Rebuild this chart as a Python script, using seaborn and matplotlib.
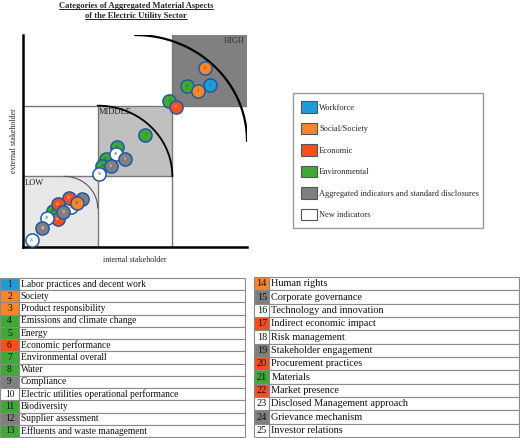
import numpy as np
import pandas as pd
import seaborn as sns
import matplotlib.pyplot as plt
from matplotlib.patches import Patch, Rectangle
from matplotlib.lines import Line2D

sns.set_style('white')
plt.rcParams['font.family'] = ['Liberation Serif', 'DejaVu Serif']

# aspects, their group and where they sit on the map (0..3 on both axes)
aspect_ids = list(range(1, 26))
aspect_names = ['Labor practices and decent work', 'Society', 'Product responsibility',
                'Emissions and climate change', 'Energy', 'Economic performance',
                'Environmental overall', 'Water', 'Compliance',
                'Electric utilities operational performance', 'Biodiversity',
                'Supplier assessment', 'Effluents and waste management', 'Human rights',
                'Corporate governance', 'Technology and innovation', 'Indirect economic impact',
                'Risk management', 'Stakeholder engagement', 'Procurement practices',
                'Materials', 'Market presence', 'Disclosed Management approach',
                'Grievance mechanism', 'Investor relations']
aspect_groups = ['Workforce', 'Social/Society', 'Social/Society', 'Environmental', 'Environmental',
                 'Economic', 'Environmental', 'Environmental', 'Aggregated', 'New',
                 'Environmental', 'Aggregated', 'Environmental', 'Social/Society', 'Aggregated',
                 'New', 'Economic', 'New', 'Aggregated', 'Economic',
                 'Environmental', 'Economic', 'New', 'Aggregated', 'New']
internal = [2.50, 2.44, 2.34, 2.19, 1.96, 2.05, 1.64, 1.26, 1.36, 1.24, 1.11, 1.18, 1.06,
            0.72, 0.79, 1.02, 0.61, 0.64, 0.54, 0.47, 0.40, 0.47, 0.32, 0.26, 0.12]
external = [2.29, 2.54, 2.21, 2.28, 2.07, 1.98, 1.58, 1.41, 1.24, 1.31, 1.25, 1.14, 1.15,
            0.62, 0.68, 1.03, 0.69, 0.57, 0.50, 0.61, 0.51, 0.39, 0.41, 0.27, 0.10]
draw_order = [2, 1, 4, 3, 5, 6, 7, 8, 11, 10, 9, 13, 12, 16,
              18, 17, 15, 14, 21, 20, 22, 23, 19, 24, 25]

group_labels = {'Workforce': 'Workforce', 'Social/Society': 'Social/Society',
                'Economic': 'Economic', 'Environmental': 'Environmental',
                'Aggregated': 'Aggregated indicators and standard disclosures',
                'New': 'New indicators'}
group_colors = {'Workforce': '#1f9bd7', 'Social/Society': '#f7852a', 'Economic': '#f4501c',
                'Environmental': '#3fa935', 'Aggregated': '#7f7f7f', 'New': '#ffffff'}

zone_names = ['LOW', 'MIDDLE', 'HIGH']
zone_start = [0, 1, 2]
zone_fill = ['#e8e8e8', '#c0c0c0', '#808080']
arc_center = [0.55, 1.0, 1.5]
arc_radius = [0.45, 1.0, 1.5]

df = pd.DataFrame({'id': aspect_ids, 'name': aspect_names, 'group': aspect_groups,
                   'internal': internal, 'external': external})
df = df.set_index('id').loc[draw_order].reset_index()

fig = plt.figure(figsize=(5.2, 4.38), dpi=100)
ax = fig.add_axes([23 / 520, 191 / 438, 224 / 520, 212 / 438])

for name, s, fill in zip(zone_names, zone_start, zone_fill):
    ax.add_patch(Rectangle((s, s), 1, 1, facecolor=fill, edgecolor='none', zorder=0))

# grid of the three levels
ax.plot([0, 2], [1, 1], color='#7a7a7a', lw=1, zorder=1)
ax.plot([0, 3], [2, 2], color='#7a7a7a', lw=1, zorder=1)
ax.plot([1, 1], [0, 2], color='#7a7a7a', lw=1, zorder=1)
ax.plot([2, 2], [0, 3], color='#7a7a7a', lw=1, zorder=1)

theta = np.linspace(0, np.pi / 2, 100)
for c, r, lw, col in zip(arc_center, arc_radius, [0.8, 1.3, 1.6], ['#555555', 'black', 'black']):
    ax.plot(c + r * np.cos(theta), c + r * np.sin(theta), color=col, lw=lw, zorder=2)

ax.text(0.02, 0.91, 'LOW', fontsize=6, ha='left', va='center', color='#222222')
ax.text(1.02, 1.915, 'MIDDLE', fontsize=6, ha='left', va='center', color='#222222')
ax.text(2.97, 2.92, 'HIGH', fontsize=6, ha='right', va='center', color='#333333')

for k, row in enumerate(df.itertuples()):
    sns.scatterplot(x=[row.internal], y=[row.external], color=group_colors[row.group],
                    s=90, edgecolor='#1f5aa6', linewidth=1.1, legend=False, ax=ax, zorder=10 + 2 * k)
    txt_col = 'white' if row.group in ('Economic', 'Aggregated') else '#333333'
    ax.text(row.internal, row.external, str(row.id), fontsize=2.8, ha='center', va='center',
            color=txt_col, zorder=11 + 2 * k)

ax.set_xlim(0, 3)
ax.set_ylim(0, 3)
ax.set_xticks([])
ax.set_yticks([])
sns.despine(ax=ax)
for side in ['left', 'bottom']:
    ax.spines[side].set_color('black')
    ax.spines[side].set_linewidth(1.8)
ax.set_xlabel('internal stakeholder', fontsize=5.8)
ax.set_ylabel('external stakeholder', fontsize=5.8)
ax.xaxis.set_label_coords(0.5, -0.042)
ax.yaxis.set_label_coords(-0.022, 0.5)

# legend
handles = [Patch(facecolor=group_colors[g], edgecolor='#555555', linewidth=0.8, label=group_labels[g])
           for g in group_labels]
leg = fig.legend(handles=handles, loc='upper left',
                 bbox_to_anchor=(293 / 520, 1 - 93 / 438, 190 / 520, 0), mode='expand',
                 borderaxespad=0, fontsize=6.0, handlelength=1.92, handleheight=1.71,
                 handletextpad=0.2, labelspacing=1.22, borderpad=1.0, fancybox=False)
leg.get_frame().set_edgecolor('#808080')
leg.get_frame().set_linewidth(1)

# tables of the aspects
tab_ax = fig.add_axes([0, 0, 1, 1])
tab_ax.axis('off')


def draw_table(ids, bbox, widths, fs, pad):
    rows = [[str(i), aspect_names[i - 1]] for i in ids]
    colours = [[group_colors[aspect_groups[i - 1]], 'white'] for i in ids]
    t = tab_ax.table(cellText=rows, cellColours=colours, colWidths=widths, bbox=bbox, cellLoc='left')
    t.auto_set_font_size(False)
    t.set_fontsize(fs)
    for (r, c), cell in t.get_celld().items():
        cell.set_edgecolor('#8a8a8a')
        cell.set_linewidth(0.8)
        cell.get_text().set_color('#111111')
        if c == 0:
            cell._loc = 'center'
            cell.get_text().set_horizontalalignment('center')
        else:
            cell.PAD = pad


draw_table(aspect_ids[:13], [0.0, 1 / 438, 245 / 520, 159 / 438], [19, 226], 6.85, 0.007)
draw_table(aspect_ids[13:], [254 / 520, 1 / 438, 265 / 520, 160 / 438], [15.5, 249.5], 7.4, 0.007)

# title, underlined
title_lines = ['Categories of Aggregated Material Aspects', 'of the Electric Utility Sector']
title_texts = [fig.text(136 / 520, 1 - y / 438, line, fontsize=6.1, fontweight='bold',
                        ha='center', va='center')
               for line, y in zip(title_lines, [5.7, 15.7])]
fig.canvas.draw()
inv = fig.transFigure.inverted()
for t in title_texts:
    bb = t.get_window_extent()
    (x0, y0), (x1, _) = inv.transform([[bb.x0, bb.y0 + 0.5], [bb.x1, bb.y0]])
    fig.add_artist(Line2D([x0, x1], [y0, y0], transform=fig.transFigure, color='black', lw=0.6))

fig.savefig('out.png', dpi=100)
